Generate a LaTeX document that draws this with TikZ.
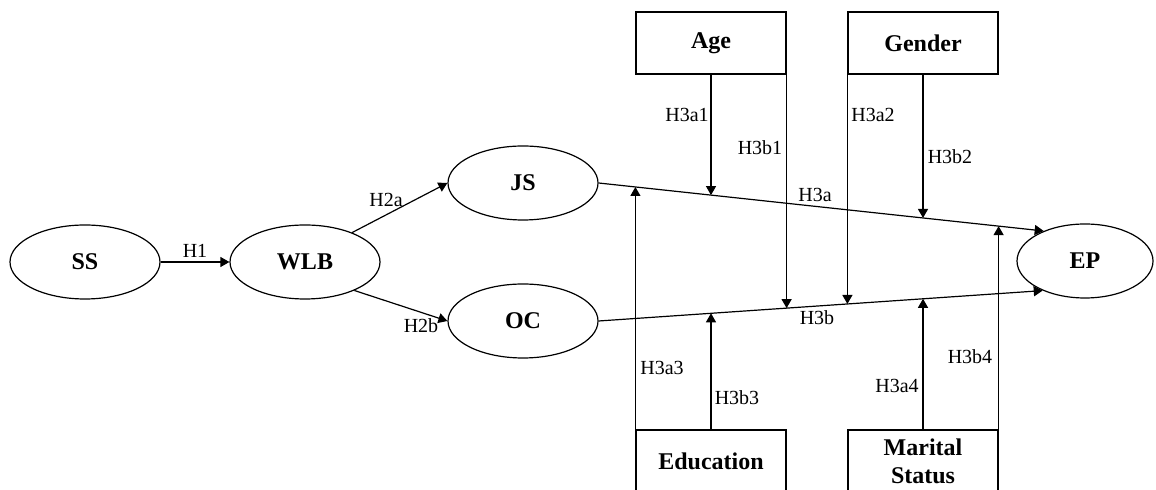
\documentclass[tikz,border=0pt]{standalone}
\usepackage{fontspec}
\setmainfont{Liberation Serif}
\usetikzlibrary{shapes.geometric,arrows.meta,intersections}
\begin{document}
\begin{tikzpicture}[x=0.5pt,y=-0.5pt,
  line width=0.6pt,
  latent/.style={ellipse,draw,minimum width=75pt,minimum height=37pt,inner sep=0pt,
    font=\fontsize{12}{14}\selectfont\bfseries},
  ctrlbox/.style={rectangle,draw,minimum width=75pt,minimum height=31pt,inner sep=0pt,
    align=center,font=\fontsize{12}{14}\selectfont\bfseries},
  arr/.style={-{Triangle[length=4.5pt,width=5pt]}},
  lab/.style={font=\fontsize{10}{12}\selectfont,inner sep=1pt}]
\useasboundingbox (0,0) rectangle (1156,490);
\clip (0,0) rectangle (1156,490);

% latent variables
\node[latent] (SS)  at (85,262)  {SS};
\node[latent] (WLB) at (305,262) {WLB};
\node[latent] (JS)  at (523,183) {JS};
\node[latent] (OC)  at (523,321) {OC};
\node[latent,minimum width=68pt] (EP) at (1085,261) {EP};

% control variables
\node[ctrlbox] (Age)  at (711,43)  {Age};
\node[ctrlbox] (Gen)  at (923,43)  {Gender};
\node[ctrlbox] (Edu)  at (711,461) {Education};
\node[ctrlbox] (Mar)  at (923,461) {Marital\\Status};

% main paths
\draw[arr] (SS.east) -- (WLB.west);
\draw[arr] (WLB.32) -- (JS.west);
\draw[arr] (WLB.-30) -- (OC.west);
\draw[arr,name path=jsep] (JS.east) -- (EP.144);
\draw[arr,name path=ocep] (OC.east) -- (EP.215);

% vertical helper paths
\path[name path=v1] (Age.south) -- ++(0,400);
\path[name path=v2] (Age.south east) -- ++(0,400);
\path[name path=v3] (Gen.south west) -- ++(0,400);
\path[name path=v4] (Gen.south) -- ++(0,400);
\path[name path=v5] (Edu.north west) -- ++(0,-400);
\path[name path=v6] (Edu.north) -- ++(0,-400);
\path[name path=v7] (Mar.north) -- ++(0,-400);
\path[name path=v8] (Mar.north east) -- ++(0,-400);

\path[name intersections={of=v1 and jsep,by=i1}];
\path[name intersections={of=v2 and ocep,by=i2}];
\path[name intersections={of=v3 and ocep,by=i3}];
\path[name intersections={of=v4 and jsep,by=i4}];
\path[name intersections={of=v5 and jsep,by=i5}];
\path[name intersections={of=v6 and ocep,by=i6}];
\path[name intersections={of=v7 and ocep,by=i7}];
\path[name intersections={of=v8 and jsep,by=i8}];

\draw[arr] (Age.south) -- (i1);
\draw[arr] (Age.south east) -- (i2);
\draw[arr] (Gen.south west) -- (i3);
\draw[arr] (Gen.south) -- (i4);
\draw[arr] (Edu.north west) -- (i5);
\draw[arr] (Edu.north) -- (i6);
\draw[arr] (Mar.north) -- (i7);
\draw[arr] (Mar.north east) -- (i8);

% labels
\node[lab] (lH1)   at (195,251) {H1};
\node[lab] (lH2a)  at (386,200) {H2a};
\node[lab] (lH2b)  at (421,326) {H2b};
\node[lab] (lH3a)  at (815,195) {H3a};
\node[lab] (lH3b)  at (817,318) {H3b};
\node[lab] (lH3a1) at (687,115) {H3a1};
\node[lab] (lH3b1) at (760,148) {H3b1};
\node[lab] (lH3a2) at (873,115) {H3a2};
\node[lab] (lH3b2) at (950,157) {H3b2};
\node[lab] (lH3a3) at (662,368) {H3a3};
\node[lab] (lH3b3) at (737,398) {H3b3};
\node[lab] (lH3a4) at (897,386) {H3a4};
\node[lab] (lH3b4) at (970,357) {H3b4};
\end{tikzpicture}
\end{document}
